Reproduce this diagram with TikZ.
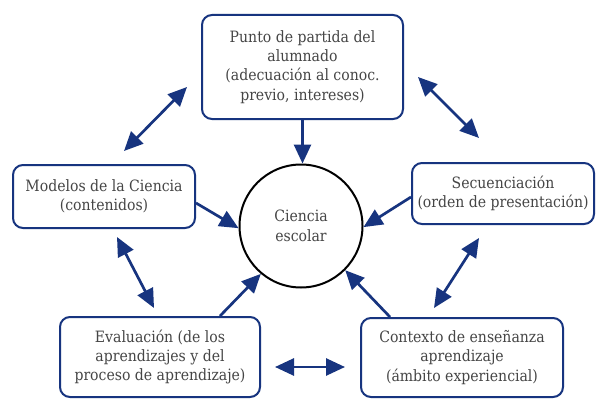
\documentclass[tikz,border=0pt]{standalone}
\usepackage{fontspec}
\setmainfont{DejaVu Serif Condensed}
\usetikzlibrary{arrows.meta}
\definecolor{navy}{HTML}{17347F}
\definecolor{txt}{HTML}{454545}
\begin{document}
\begin{tikzpicture}[x=1pt,y=-1pt,
  box/.style={draw=navy,line width=2pt,rounded corners=10pt,align=center,inner sep=0pt,text=txt,
    font=\fontsize{15.6}{19.3}\selectfont},
  circ/.style={draw=black,line width=2pt,circle,align=center,inner sep=0pt,text=txt,
    font=\fontsize{15.6}{19.5}\selectfont,minimum size=123pt},
  arr/.style={draw=navy,line width=2.7pt,-{Triangle[length=19pt,width=17pt]}},
  darr/.style={draw=navy,line width=2.7pt,{Triangle[length=19pt,width=17pt]}-{Triangle[length=19pt,width=17pt]}}]
\useasboundingbox (0,0) rectangle (596,401);
\fill[white] (0,0) rectangle (596,401);
\node[box,minimum width=201pt,minimum height=104pt] (top) at (302.5,67)
  {Punto de partida del\\alumnado\\(adecuación al conoc.\\previo, intereses)};
\node[circ] (c) at (301,226) {Ciencia\\escolar};
\node[box,minimum width=182pt,minimum height=63pt] (mod) at (104,196.5)
  {Modelos de la Ciencia\\(contenidos)};
\node[box,minimum width=182pt,minimum height=61pt] (sec) at (503,193.5)
  {Secuenciación\\(orden de presentación)};
\node[box,minimum width=200pt,minimum height=80pt] (eva) at (160,357)
  {Evaluación (de los\\aprendizajes y del\\proceso de aprendizaje)};
\node[box,minimum width=202pt,minimum height=79pt] (con) at (462,357.5)
  {Contexto de enseñanza\\aprendizaje\\(ámbito experiencial)};
% single arrows
\draw[arr] (top.south) -- (top.south |- c.north);
\draw[arr] ([yshift=-6.5pt]mod.east) -- (c.182);
\draw[arr] ([yshift=-3.5pt]sec.west) -- (c.-1);
\draw[arr] ([xshift=60pt]eva.north) -- (c.230);
\draw[arr] ([xshift=-72pt]con.north) -- (c.-45);
% double arrows
\coordinate (a1) at (124,151); \coordinate (a2) at (187,87);
\coordinate (b1) at (418,77);  \coordinate (b2) at (479,138);
\coordinate (l1) at (117,237); \coordinate (l2) at (154,308);
\coordinate (r1) at (479,238); \coordinate (r2) at (434,308);
\coordinate (h1) at (275,367); \coordinate (h2) at (345,367);
\draw[darr] (a1) -- (a2);
\draw[darr] (b1) -- (b2);
\draw[darr] (l1) -- (l2);
\draw[darr] (r1) -- (r2);
\draw[darr] (h1) -- (h2);
\end{tikzpicture}
\end{document}
